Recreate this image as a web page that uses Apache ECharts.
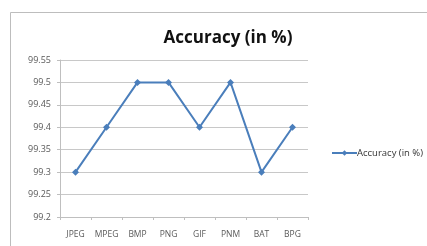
<!DOCTYPE html>
<html>
<head>
<meta charset="utf-8">
<script src="https://cdn.jsdelivr.net/npm/echarts@6/dist/echarts.min.js"></script>
<style>
  html, body { margin: 0; padding: 0; background: #fff; }
  #chart { width: 427px; height: 246px; }
</style>
</head>
<body>
<div id="chart"></div>
<script>
// data
const formats = ['JPEG', 'MPEG', 'BMP', 'PNG', 'GIF', 'PNM', 'BAT', 'BPG'];
const accuracy = [99.3, 99.4, 99.5, 99.5, 99.4, 99.5, 99.3, 99.4];
const seriesName = 'Accuracy (in %)';

const chart = echarts.init(document.getElementById('chart'), null, { renderer: 'canvas' });

chart.setOption({
  backgroundColor: '#fff',
  animation: false,
  graphic: [{
    type: 'rect',
    shape: { x: 10.5, y: 12.5, width: 430, height: 250 },
    style: { fill: 'none', stroke: '#bdbdbd', lineWidth: 1 }
  }],
  title: {
    text: 'Accuracy (in %)',
    left: 223,
    top: 25,
    textAlign: 'center',
    textStyle: { fontFamily: 'Open Sans', fontSize: 17, fontWeight: 'bold', color: '#111' }
  },
  legend: {
    left: 326,
    top: 143,
    itemWidth: 25,
    itemHeight: 7,
    itemGap: 2,
    data: [seriesName],
    textStyle: { fontFamily: 'Open Sans', fontSize: 9.5, color: '#333', padding: [0, 0, 0, -5] }
  },
  grid: { left: 60, top: 60, width: 248, height: 157 },
  xAxis: {
    type: 'category',
    data: formats,
    boundaryGap: true,
    axisLine: { lineStyle: { color: '#bfbfbf' } },
    axisTick: { show: true, length: 3, interval: 0, lineStyle: { color: '#bfbfbf' } },
    axisLabel: { interval: 0, fontFamily: 'Open Sans', fontSize: 8.5, color: '#595959', margin: 13 }
  },
  yAxis: {
    type: 'value',
    min: 99.2,
    max: 99.55,
    interval: 0.05,
    axisLine: { show: true, lineStyle: { color: '#bfbfbf' } },
    axisTick: { show: true, length: 3, lineStyle: { color: '#bfbfbf' } },
    splitLine: { lineStyle: { color: '#c8c8c8' } },
    axisLabel: {
      fontFamily: 'Open Sans', fontSize: 9, color: '#595959', margin: 9,
      formatter: v => String(parseFloat(v.toFixed(2)))
    }
  },
  series: [{
    name: seriesName,
    type: 'line',
    data: accuracy,
    symbol: 'diamond',
    symbolSize: 7,
    itemStyle: { color: '#4a7ebb' },
    lineStyle: { color: '#4a7ebb', width: 2 }
  }]
});
</script>
</body>
</html>
